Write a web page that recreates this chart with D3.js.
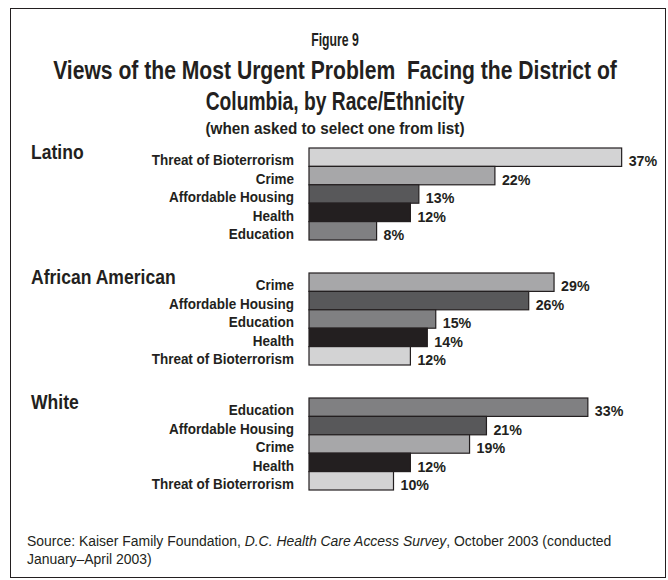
<!DOCTYPE html>
<html>
<head>
<meta charset="utf-8">
<script src="https://cdn.jsdelivr.net/npm/d3@7"></script>
<style>
  html, body { margin: 0; padding: 0; background: #fff; }
  svg { display: block; }
  text { font-family: "Liberation Sans", Arial, Helvetica, sans-serif; fill: #231f20; }
</style>
</head>
<body>
<svg id="chart" width="668" height="580"></svg>
<script>
// Survey groups and their ranked answers (percent choosing each problem)
const groups = ["Latino", "African American", "White"];

const latinoIssues = ["Threat of Bioterrorism", "Crime", "Affordable Housing", "Health", "Education"];
const latinoValues = [37, 22, 13, 12, 8];

const africanAmericanIssues = ["Crime", "Affordable Housing", "Education", "Health", "Threat of Bioterrorism"];
const africanAmericanValues = [29, 26, 15, 14, 12];

const whiteIssues = ["Education", "Affordable Housing", "Crime", "Health", "Threat of Bioterrorism"];
const whiteValues = [33, 21, 19, 12, 10];

const issueNames = ["Threat of Bioterrorism", "Crime", "Affordable Housing", "Health", "Education"];

const groupIssues = [latinoIssues, africanAmericanIssues, whiteIssues];
const groupValues = [latinoValues, africanAmericanValues, whiteValues];

const svg = d3.select("#chart");

// Narrow type: a horizontally squeezed sans face, placed with a transform
const squeeze = (x, y, s) => `translate(${x},${y}) scale(${s},1)`;

// Frame
svg.append("rect")
  .attr("x", 10.5).attr("y", 8.5)
  .attr("width", 655).attr("height", 569)
  .attr("fill", "#fff").attr("stroke", "#231f20").attr("stroke-width", 1);

// Titles
const cx = 335;
const titles = [
  { t: "Figure 9", y: 46, size: 18, s: 0.68 },
  { t: "Views of the Most Urgent Problem  Facing the District of", y: 79, size: 25, s: 0.845 },
  { t: "Columbia, by Race/Ethnicity", y: 110, size: 25, s: 0.77 },
  { t: "(when asked to select one from list)", y: 134, size: 17, s: 0.9 }
];
svg.selectAll("text.title").data(titles).join("text")
  .attr("class", "title")
  .attr("transform", d => squeeze(cx, d.y, d.s))
  .attr("text-anchor", "middle")
  .attr("font-weight", "bold")
  .attr("font-size", d => d.size)
  .style("white-space", "pre")
  .text(d => d.t);

// Scales
const x = d3.scaleLinear().domain([0, 100]).range([309, 309 + 845]);
const gy = d3.scaleBand().domain(groups).range([148, 148 + 125 * 3]).paddingInner(0);
const by = d3.scaleBand().domain(d3.range(5)).range([0, 92]);
const color = d3.scaleOrdinal()
  .domain(issueNames)
  .range(["#d3d3d4", "#a7a7a9", "#58585a", "#231f20", "#808082"]);

groups.forEach((g, gi) => {
  const top = gy(g);
  const rows = groupIssues[gi].map((name, i) => ({ name, value: groupValues[gi][i], i }));
  const layer = svg.append("g").attr("transform", `translate(0,${top})`);

  layer.append("text")
    .attr("transform", squeeze(31, 11, 0.9))
    .attr("font-weight", "bold").attr("font-size", 19.5)
    .text(g);

  layer.selectAll("rect.bar").data(rows).join("rect")
    .attr("class", "bar")
    .attr("x", x(0))
    .attr("y", d => by(d.i))
    .attr("width", d => x(d.value) - x(0))
    .attr("height", by.bandwidth())
    .attr("fill", d => color(d.name))
    .attr("stroke", "#231f20").attr("stroke-width", 1.2);

  layer.selectAll("text.cat").data(rows).join("text")
    .attr("class", "cat")
    .attr("transform", d => squeeze(294, by(d.i) + by.bandwidth() - 1, 0.9))
    .attr("text-anchor", "end")
    .attr("font-weight", "bold").attr("font-size", 15)
    .text(d => d.name);

  layer.selectAll("text.val").data(rows).join("text")
    .attr("class", "val")
    .attr("transform", d => squeeze(x(d.value) + 7, by(d.i) + by.bandwidth(), 0.92))
    .attr("font-weight", "bold").attr("font-size", 15.5)
    .text(d => d.value + "%");
});

// Source note
const src = svg.append("g").attr("transform", squeeze(27, 0, 0.93));
const line1 = src.append("text").attr("y", 546).attr("font-size", 15);
line1.append("tspan").text("Source: Kaiser Family Foundation, ");
line1.append("tspan").attr("font-style", "italic").text("D.C. Health Care Access Survey");
line1.append("tspan").text(", October 2003 (conducted");
src.append("text").attr("y", 564).attr("font-size", 15).text("January\u2013April 2003)");
</script>
</body>
</html>
